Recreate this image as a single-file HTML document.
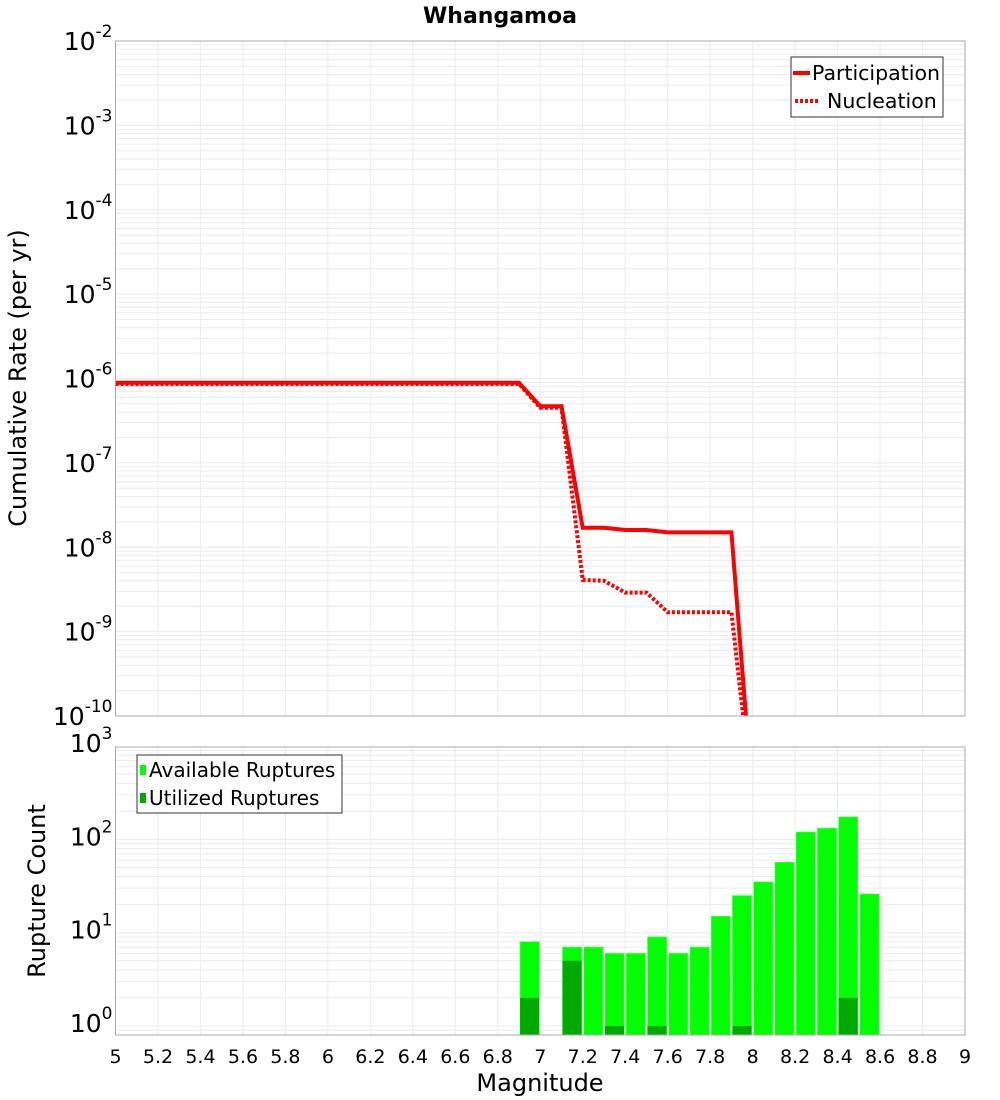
<!DOCTYPE html>
<html><head><meta charset="utf-8"><style>
body{margin:0;background:#fff;}
svg{display:block;font-family:"DejaVu Sans","Liberation Sans",sans-serif;}
</style></head><body>
<svg id="c" width="1000" height="1100"></svg>
<script>
const magsP=[5.0,6.9,7.0,7.1,7.2,7.3,7.4,7.5,7.6,7.7,7.8,7.9,8.0];
const partRate=[8.9e-7,8.9e-7,4.7e-7,4.7e-7,1.7e-8,1.7e-8,1.6e-8,1.6e-8,1.5e-8,1.5e-8,1.5e-8,1.5e-8,1e-11];
const nuclRate=[8.6e-7,8.6e-7,4.5e-7,4.5e-7,4.1e-9,4.0e-9,2.9e-9,2.9e-9,1.7e-9,1.7e-9,1.7e-9,1.7e-9,1e-11];
const binMags=[6.95,7.05,7.15,7.25,7.35,7.45,7.55,7.65,7.75,7.85,7.95,8.05,8.15,8.25,8.35,8.45,8.55];
const availCounts=[8,0,7,7,6,6,9,6,7,15,25,35,57,120,132,174,26];
const usedCounts=[2,0,5,0,1,0,1,0,0,0,1,0,0,0,0,2,0];
const xTicks=[5,5.2,5.4,5.6,5.8,6,6.2,6.4,6.6,6.8,7,7.2,7.4,7.6,7.8,8,8.2,8.4,8.6,8.8,9];
const topExps=[-2,-3,-4,-5,-6,-7,-8,-9,-10];
const botExps=[3,2,1,0];

const S=document.getElementById('c'),NS='http://www.w3.org/2000/svg';
function mk(t,a,p){const e=document.createElementNS(NS,t);for(const k in a)e.setAttribute(k,a[k]);(p||S).appendChild(e);return e;}
const L=115.5,R=965;
const X=m=>L+(m-5)/4*(R-L);
const T0=41,T1=716,yT=v=>T0+(-2-Math.log10(v))*(T1-T0)/8;
const B0=747,B1=1035,dec=93.3,yB=v=>1026-Math.log10(v)*dec;

function grid(top,bot,minExp,maxExp,yf,name){
  const g=mk('g',{});
  for(let e=minExp;e<maxExp;e++)for(let k=1;k<10;k++){const y=yf(k*Math.pow(10,e));if(y>=top&&y<=bot)mk('line',{x1:L,x2:R,y1:y,y2:y,stroke:'#ebebeb','stroke-width':1},g);}
  xTicks.forEach(t=>{const x=X(t);mk('line',{x1:x,x2:x,y1:top,y2:bot,stroke:'#ebebeb','stroke-width':1},g);});
}
grid(T0,T1,-10,-1,yT,'top-grid');
grid(B0,B1,-1,3,yB,'bottom-grid');

// bars
const bw=(R-L)/40*0.9;
binMags.forEach((m,i)=>{
  if(availCounts[i]>0){const r=mk('rect',{x:X(m)-bw/2,y:yB(availCounts[i]),width:bw,height:B1-yB(availCounts[i]),fill:'#00ff00',stroke:'#5f5','stroke-width':0.6});
  }
  if(usedCounts[i]>0){const r=mk('rect',{x:X(m)-bw/2,y:yB(usedCounts[i]),width:bw,height:B1-yB(usedCounts[i]),fill:'#00aa00'});
  }
});

// lines
mk('clipPath',{id:'cp'});mk('rect',{x:L,y:T0,width:R-L,height:T1-T0},document.getElementById('cp'));
function line(vals,dash,name){const d=magsP.map((m,i)=>(i?'L':'M')+X(m).toFixed(1)+','+yT(vals[i]).toFixed(1)).join('');
  const p=mk('path',{d:d,fill:'none',stroke:'#ff0000','stroke-width':4,'clip-path':'url(#cp)'});if(dash)p.setAttribute('stroke-dasharray',dash);
  }
line(nuclRate,'3,2','nucleation-line');
line(partRate,null,'participation-line');

// frames
mk('rect',{x:L,y:T0,width:R-L,height:T1-T0,fill:'none',stroke:'#aaa','stroke-width':1});
mk('rect',{x:L,y:B0,width:R-L,height:B1-B0,fill:'none',stroke:'#aaa','stroke-width':1});

// y tick labels
function ylab(e,y,name){const t=mk('text',{x:L-3,y:y,'text-anchor':'end','font-size':25,fill:'#000'});
  
  t.innerHTML='10<tspan dy="-13" font-size="17">'+e+'</tspan>';}
topExps.forEach(e=>ylab(e,yT(Math.pow(10,e))+9,'top-y-tick-label'));
botExps.forEach(e=>ylab(e,(e==0?1026:yB(Math.pow(10,e)))+6,'bottom-y-tick-label'));
// x tick labels
xTicks.forEach(v=>{const t=mk('text',{x:X(v),y:1063,'text-anchor':'middle','font-size':19,fill:'#000'});t.textContent=String(v);
  });

function txt(s,a,name){const t=mk('text',a);t.textContent=s;return t;}
txt('Whangamoa',{x:500,y:23,'text-anchor':'middle','font-size':22,'font-weight':'bold'},'chart-title');
txt('Magnitude',{x:540,y:1091,'text-anchor':'middle','font-size':24},'x-axis-title');
txt('Cumulative Rate (per yr)',{x:0,y:0,'text-anchor':'middle','font-size':24,transform:'translate(26,378) rotate(-90)'},'top-y-axis-title');
txt('Rupture Count',{x:0,y:0,'text-anchor':'middle','font-size':24,transform:'translate(45,891) rotate(-90)'},'bottom-y-axis-title');

// legends
const lg=mk('g',{});
mk('rect',{x:791,y:57,width:152,height:60,fill:'#fff',stroke:'#333','stroke-width':1},lg);
mk('line',{x1:793,x2:810,y1:73,y2:73,stroke:'#f00','stroke-width':4},lg);
mk('line',{x1:795,x2:819,y1:101,y2:101,stroke:'#f00','stroke-width':4,'stroke-dasharray':'3,2'},lg);
txt('Participation',{x:812,y:80,'font-size':20.5},'legend-participation');
txt('Nucleation',{x:827,y:108,'font-size':20.5},'legend-nucleation');
const lg2=mk('g',{});
mk('rect',{x:137,y:755,width:205,height:58,fill:'#fff',stroke:'#333','stroke-width':1},lg2);
mk('rect',{x:140,y:765,width:6,height:10,fill:'#00ff00'},lg2);
mk('rect',{x:140,y:793,width:6,height:10,fill:'#00aa00'},lg2);
txt('Available Ruptures',{x:149,y:777,'font-size':20},'legend-available');
txt('Utilized Ruptures',{x:149,y:805,'font-size':20},'legend-utilized');
</script>
</body></html>
